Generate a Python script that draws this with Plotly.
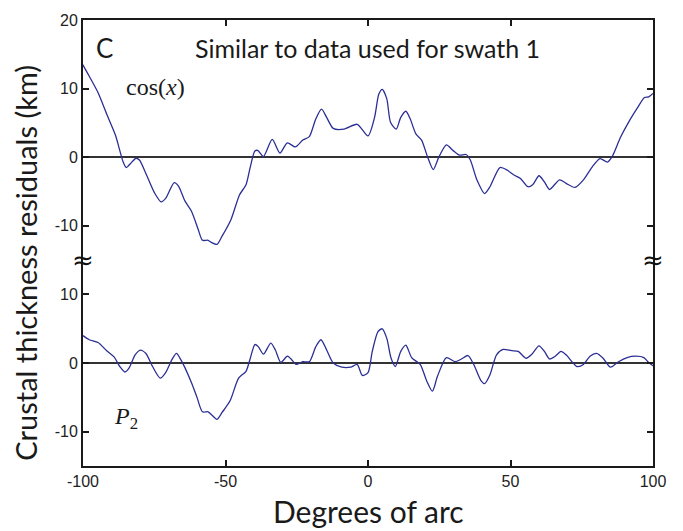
import plotly.graph_objects as go

# Top panel: cos(x) residuals
x_top = [-100.1, -97.8, -94.7, -91.7, -88.6, -87.1, -85.9, -84.8, -83.3, -81.4, -80.2, -77.9, -74.9, -72.6,
         -71.0, -68.0, -66.5, -64.2, -61.9, -59.6, -58.1, -56.1, -55.0, -53.0, -51.2, -48.1, -45.1, -42.8,
         -41.3, -39.7, -38.7, -36.7, -33.6, -30.9, -28.3, -25.5, -22.9, -20.6, -18.3, -16.3, -14.5, -12.2,
         -8.4, -3.8, 0.0, 2.3, 3.8, 5.0, 6.6, 7.9, 9.9, 11.5, 13.3, 14.8, 16.8, 18.8, 20.9, 22.9, 24.9,
         27.5, 29.8, 32.1, 34.4, 35.9, 38.2, 40.9, 42.8, 46.3, 48.9, 51.2, 53.5, 56.1, 57.8, 60.0, 61.9,
         63.7, 67.2, 69.5, 72.6, 75.6, 78.7, 81.4, 84.0, 85.6, 88.6, 91.7, 94.7, 97.0, 98.5, 100.0]
y_top = [13.5, 11.8, 9.4, 6.3, 3.2, 1.0, -0.7, -1.5, -0.9, -0.15, -0.4, -2.4, -5.2, -6.5,
         -6.0, -3.7, -4.2, -6.4, -7.9, -10.5, -12.1, -12.1, -12.4, -12.7, -11.5, -9.1, -5.5, -4.0,
         -1.4, 0.9, 1.0, 0.1, 2.6, 0.6, 2.1, 1.5, 2.5, 3.0, 5.6, 7.0, 5.8, 4.2,
         4.1, 4.8, 3.1, 5.8, 9.2, 9.9, 8.5, 5.1, 4.1, 5.8, 6.7, 5.6, 3.4, 2.5, 0.05, -1.8, 0.05,
         1.8, 1.0, 0.3, 0.4, -0.4, -3.3, -5.3, -4.3, -1.5, -1.9, -2.6, -3.1, -4.3, -4.0, -2.7, -3.6,
         -4.7, -3.3, -3.8, -4.4, -3.3, -1.4, -0.2, -0.7, 0.05, 2.9, 5.3, 7.3, 8.7, 8.8, 9.3]

# Bottom panel: P2 residuals
x_bot = [-100.0, -97.8, -94.7, -91.7, -89.1, -87.1, -85.3, -83.8, -81.7, -79.9, -77.9, -75.6, -72.9, -71.0,
         -68.8, -67.2, -65.7, -64.2, -61.9, -60.0, -58.1, -56.1, -54.7, -53.0, -51.2, -48.4, -45.4, -42.8,
         -41.3, -39.7, -38.5, -36.7, -34.1, -32.5, -30.6, -28.3, -27.0, -25.2, -22.9, -20.6, -18.3, -16.5,
         -14.5, -12.2, -9.2, -6.1, -3.8, -2.0, 0.0, 1.5, 3.5, 5.0, 6.6, 8.1, 9.6, 11.5, 13.3, 15.3, 18.3,
         20.6, 22.6, 24.4, 27.5, 30.6, 32.8, 35.1, 37.1, 39.7, 40.9, 42.8, 45.1, 47.4, 50.4, 52.7, 55.5,
         57.3, 60.0, 61.9, 63.7, 65.7, 67.7, 69.5, 73.3, 75.6, 77.9, 80.2, 82.5, 85.1, 87.9, 90.9, 94.0,
         96.8, 98.2, 100.0]
y_bot = [4.0, 3.4, 3.0, 1.8, 0.9, -0.5, -1.3, -0.7, 1.2, 1.9, 1.4, -0.5, -2.2, -1.4,
         0.5, 1.4, 0.5, -0.7, -2.9, -5.0, -7.1, -7.1, -7.6, -8.2, -7.2, -5.5, -2.2, -1.2,
         0.7, 2.7, 2.4, 1.3, 2.9, 1.9, 0.1, 1.0, 0.6, -0.2, 0.2, 0.2, 2.4, 3.4,
         1.9, 0.0, -0.6, -0.6, -0.2, -1.8, -1.4, 1.7, 4.6, 5.0, 3.6, 0.7, -0.5, 1.7, 2.6, 0.8, -0.2,
         -2.6, -4.1, -1.9, 0.8, 0.2, 0.6, 1.1, -0.2, -2.6, -3.0, -1.7, 1.2, 2.0, 1.8, 1.7, 0.7,
         1.2, 2.5, 1.7, 0.6, 1.0, 1.7, 1.2, -0.5, -0.2, 1.0, 1.4, 0.7, -0.6, 0.2, 0.8, 1.0,
         0.8, 0.2, -0.4]

x_ticks = [-100, -50, 0, 50, 100]
y_top_ticks = [-10, 0, 10, 20]
y_bot_ticks = [-10, 0, 10]
y_top_range = [-15, 20]
y_bot_range = [-15, 15]


def labels(vals):
    return [str(v) for v in vals]  # ASCII hyphen-minus as in the reference


LINE = "#2b2f95"
AX = "#1a1a1a"
tickfont = dict(family="Liberation Sans, Arial", size=16, color="#222222")
split = (y_bot_range[1] - y_bot_range[0]) / ((y_top_range[1] - y_top_range[0]) + (y_bot_range[1] - y_bot_range[0]))

fig = go.Figure()
fig.add_trace(go.Scatter(x=x_top, y=y_top, mode="lines", xaxis="x2", yaxis="y2",
                         line=dict(color=LINE, width=1.3, shape="spline", smoothing=0.7), showlegend=False))
fig.add_trace(go.Scatter(x=x_bot, y=y_bot, mode="lines", xaxis="x", yaxis="y",
                         line=dict(color=LINE, width=1.3, shape="spline", smoothing=0.7), showlegend=False))

common_y = dict(showline=True, linecolor=AX, linewidth=2, mirror="ticks", ticks="inside", ticklen=6,
                tickcolor=AX, tickwidth=1.5, showgrid=False, zeroline=True, zerolinecolor="#333333",
                zerolinewidth=1.5, tickfont=tickfont, fixedrange=True)

fig.update_layout(
    width=683, height=531,
    margin=dict(l=83, r=30, t=16, b=65),
    paper_bgcolor="white", plot_bgcolor="white",
    xaxis=dict(domain=[0, 1], range=[-100, 100], anchor="y", tickvals=x_ticks, ticktext=labels(x_ticks),
               showline=True, linecolor=AX, linewidth=2, ticks="inside", ticklen=6, tickcolor=AX,
               tickwidth=1.5, showgrid=False, zeroline=False, tickfont=tickfont),
    xaxis2=dict(domain=[0, 1], range=[-100, 100], anchor="y2", side="top", tickvals=x_ticks,
                showticklabels=False, matches="x",
                showline=True, linecolor=AX, linewidth=2, ticks="inside", ticklen=6, tickcolor=AX,
                tickwidth=1.5, showgrid=False, zeroline=False),
    yaxis=dict(domain=[0, split], range=y_bot_range, tickvals=y_bot_ticks, ticktext=labels(y_bot_ticks), **common_y),
    yaxis2=dict(domain=[split, 1], range=y_top_range, tickvals=y_top_ticks, ticktext=labels(y_top_ticks), **common_y),
)

title_font = dict(family="Lato, Open Sans", size=29, color="#1a1a1a")
fig.add_annotation(text="Degrees of arc", xref="paper", yref="paper", x=0.5, y=(466 - 511) / 450,
                   showarrow=False, font=dict(family="Lato, Open Sans", size=30, color="#1a1a1a"),
                   xanchor="center", yanchor="middle")
fig.add_annotation(text="Crustal thickness residuals (km)", xref="paper", yref="paper",
                   x=(26 - 83) / 570, y=(466 - 261) / 450, textangle=-90,
                   showarrow=False, font=title_font, xanchor="center", yanchor="middle")
fig.add_annotation(text="C", xref="paper", yref="paper", x=(104 - 83) / 570, y=(466 - 44) / 450,
                   showarrow=False, font=dict(family="Lato, Open Sans", size=26, color="#1a1a1a"),
                   xanchor="center", yanchor="middle")
fig.add_annotation(text="Similar to data used for swath 1", xref="paper", yref="paper",
                   x=(367 - 83) / 570, y=(466 - 44) / 450,
                   showarrow=False, font=dict(family="Lato, Open Sans", size=25, color="#1a1a1a"),
                   xanchor="center", yanchor="middle")
fig.add_annotation(text="cos(<i>x</i>)", xref="paper", yref="paper", x=(155 - 83) / 570, y=(466 - 84) / 450,
                   showarrow=False, font=dict(family="Liberation Serif, Times New Roman", size=24, color="#1a1a1a"),
                   xanchor="center", yanchor="middle")
fig.add_annotation(text="<i>P</i><sub>2</sub>", xref="paper", yref="paper", x=(126 - 83) / 570, y=(466 - 418) / 450,
                   showarrow=False, font=dict(family="Liberation Serif, Times New Roman", size=24, color="#1a1a1a"),
                   xanchor="center", yanchor="middle")
for xp in (0, 1):
    fig.add_annotation(text="≈", xref="paper", yref="paper", x=xp, y=split,
                       showarrow=False, font=dict(family="DejaVu Sans", size=26, color="#111111"),
                       xanchor="center", yanchor="middle")

fig.write_html("out.html")
